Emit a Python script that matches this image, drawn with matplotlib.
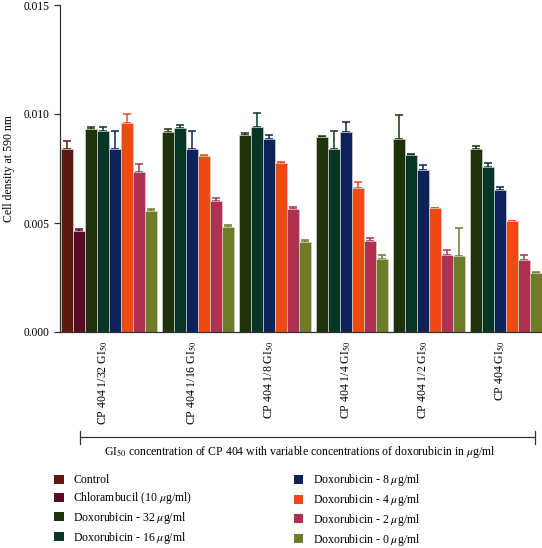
import numpy as np
import matplotlib
matplotlib.use("Agg")
import matplotlib.pyplot as plt
from matplotlib.patches import Patch
from matplotlib.lines import Line2D

plt.rcParams['font.family'] = ['Liberation Serif', 'DejaVu Serif']
plt.rcParams['mathtext.fontset'] = 'stix'

# -----------------------------
# Datos
# -----------------------------
groups = ["CP 404 1/32 GI$_{50}$", "CP 404 1/16 GI$_{50}$", "CP 404 1/8 GI$_{50}$",
          "CP 404 1/4 GI$_{50}$", "CP 404 1/2 GI$_{50}$", "CP 404 GI$_{50}$"]

control = [0.00841]
control_err = [0.00035]
chlorambucil = [0.00463]
chlorambucil_err = [0.00008]

dox_32 = [0.00933, 0.00917, 0.00902, 0.00893, 0.00885, 0.00841]
dox_32_err = [0.00006, 0.00014, 0.00009, 0.00008, 0.00110, 0.00014]
dox_16 = [0.00924, 0.00936, 0.00942, 0.00841, 0.00812, 0.00757]
dox_16_err = [0.00015, 0.00014, 0.00063, 0.00080, 0.00006, 0.00020]
dox_8 = [0.00841, 0.00841, 0.00887, 0.00917, 0.00743, 0.00650]
dox_8_err = [0.00080, 0.00080, 0.00015, 0.00045, 0.00023, 0.00015]
dox_4 = [0.00961, 0.00806, 0.00774, 0.00662, 0.00567, 0.00509]
dox_4_err = [0.00040, 0.00006, 0.00006, 0.00025, 0.00002, 0.00002]
dox_2 = [0.00733, 0.00600, 0.00563, 0.00417, 0.00352, 0.00328]
dox_2_err = [0.00037, 0.00015, 0.00009, 0.00014, 0.00023, 0.00027]
dox_0 = [0.00554, 0.00480, 0.00415, 0.00337, 0.00349, 0.00271]
dox_0_err = [0.00008, 0.00009, 0.00007, 0.00016, 0.00130, 0.00002]

labels = ["Control", "Chlorambucil (10 $\\mu$g/ml)", "Doxorubicin - 32 $\\mu$g/ml",
          "Doxorubicin - 16 $\\mu$g/ml", "Doxorubicin - 8 $\\mu$g/ml",
          "Doxorubicin - 4 $\\mu$g/ml", "Doxorubicin - 2 $\\mu$g/ml",
          "Doxorubicin - 0 $\\mu$g/ml"]
colors = ["#5e1a0e", "#5a0a22", "#1e330c", "#073626", "#0e225a",
          "#ef4a12", "#b03050", "#6e7c28"]

# -----------------------------
# Posiciones de barras
# -----------------------------
series = [(control, control_err), (chlorambucil, chlorambucil_err),
          (dox_32, dox_32_err), (dox_16, dox_16_err), (dox_8, dox_8_err),
          (dox_4, dox_4_err), (dox_2, dox_2_err), (dox_0, dox_0_err)]

gap = 0.4
offset = 0.05
# cuántas series hay en cada grupo
sizes = [sum(1 for vals, _ in series if len(vals) > g) for g in range(len(groups))]
starts = []
pos = offset
for s in sizes:
    starts.append(pos)
    pos += s + gap
x_end = pos - gap

fig = plt.figure(figsize=(5.42, 5.48), dpi=100)
ax = fig.add_axes([60 / 542, 1 - 332 / 548, 482 / 542, 327 / 548])

for si, (vals, errs) in enumerate(series):
    xs = []
    for g in range(len(vals)):
        # índice de la serie dentro del grupo
        present = [k for k, (v, _) in enumerate(series) if len(v) > g]
        k = present.index(si)
        xs.append(starts[g] + k + 0.5)
    ax.bar(xs, vals, width=1.0, color=colors[si], edgecolor="#d0d0d0",
           linewidth=0.5, label=labels[si], zorder=2)
    ax.errorbar(xs, vals, yerr=[np.zeros(len(errs)), errs], fmt="none",
                ecolor=colors[si], elinewidth=1.1, capsize=2.8, capthick=1.1, zorder=1)

centers = [starts[g] + sizes[g] / 2 for g in range(len(groups))]
ax.set_xticks([c - 0.45 for c in centers])
ax.set_xticklabels(groups, rotation=90, fontsize=8.5)
ax.tick_params(axis="x", length=0, pad=6)

ax.set_xlim(0, x_end)
ax.set_ylim(0, 0.015)
ax.set_yticks([0.0, 0.005, 0.010, 0.015])
ax.set_yticklabels(["0.000", "0.005", "0.010", "0.015"], fontsize=8.3)
ax.tick_params(axis="y", length=4, width=0.9, color="#333333")
ax.set_ylabel("Cell density at 590 nm", fontsize=8.5, labelpad=6)

ax.spines["top"].set_visible(False)
ax.spines["right"].set_visible(False)
ax.spines["left"].set_color("#333333")
ax.spines["bottom"].set_color("#333333")
ax.spines["left"].set_linewidth(0.9)
ax.spines["bottom"].set_linewidth(0.9)

# -----------------------------
# Corchete y texto inferior
# -----------------------------
W, H = 542, 548
yb = 1 - 437 / H
fig.add_artist(Line2D([80 / W, 535 / W], [yb, yb], color="#333333", lw=0.9))
for xp in (80, 535):
    fig.add_artist(Line2D([xp / W, xp / W], [1 - 431 / H, 1 - 444 / H], color="#333333", lw=0.9))
fig.text(300 / W, 1 - 452 / H,
         "GI$_{50}$ concentration of CP 404 with variable concentrations of doxorubicin in $\\mu$g/ml",
         ha="center", va="center", fontsize=8.5)

# -----------------------------
# Leyenda
# -----------------------------
handles = [Patch(facecolor=c, edgecolor="none") for c in colors]
fig.legend(handles, labels, ncol=2, loc="upper left",
           bbox_to_anchor=(45 / W, 1 - 463 / H), frameon=False, fontsize=8.5,
           handlelength=0.8, handleheight=0.8, handletextpad=0.8,
           labelspacing=0.32, columnspacing=8.6, borderpad=0.3)

fig.savefig("out.png", dpi=100)
